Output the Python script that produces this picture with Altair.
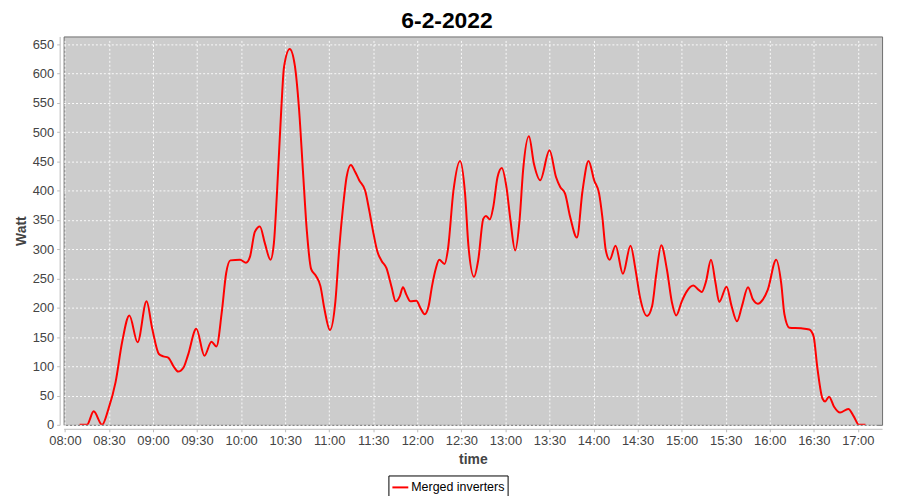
import altair as alt
import pandas as pd

# Readings (minutes after 08:00, watt)
minutes_after_8am = [
    10, 15, 19.6, 25.3, 29.5, 34.5, 39, 43.9, 49.5, 55.6, 59.4, 64, 67, 70.3, 74.2, 77.1,
    80.8, 83.8, 89.5, 95, 99.8, 103.2, 106.8, 109.8, 112.7, 119.3, 123.3, 126, 129.4,
    132.8, 136.2, 140, 142.3, 144.5, 147.4, 149.2, 153.1, 156.5, 159.4, 162.1, 164.8,
    167.7, 171.1, 174, 176.8, 180.5, 184.2, 186.9, 189.6, 191.8, 194.7, 197.7, 200.4,
    204.5, 207.2, 209.9, 212.8, 215.7, 218.9, 222.5, 225.2, 228.1, 230.2, 232.6, 235.3,
    239.4, 242, 245, 247.7, 250, 252.7, 254.9, 258.6, 260.8, 264.6, 269.1, 272.5, 274.8,
    278.6, 281.5, 284.9, 286.7, 289.4, 291.7, 294.6, 297.5, 300.7, 303.4, 306.6, 309.7,
    312, 316, 319.4, 323.7, 330, 334.5, 337.4, 340.6, 344.1, 348.7, 352.5, 356.6, 360.4,
    363.8, 366, 368.3, 371, 375, 380, 385.2, 388.6, 391.5, 396.5, 399.9, 402.8, 406.1,
    410, 413.4, 416.3, 420.1, 423.5, 428, 431.4, 433.7, 436.6, 440, 443.1, 445.6, 450.6,
    454, 457.7, 461.1, 465.2, 468.6, 471.9, 475.3, 478.7, 484.4, 487.8, 490, 493.4,
    501.3, 506.9, 509.8, 512.5, 515.9, 517.7, 520.4, 523.8, 527.9, 533.5, 537.3, 540.7,
    545.2,
]
watts = [
    0, 0, 23, 0, 26, 73, 142, 187, 141, 211, 165, 121, 117, 115, 99, 91,
    98, 119, 164, 118, 142, 134, 192, 259, 281, 282, 277, 287, 330,
    339, 310, 282, 310, 400, 542, 611, 642, 615, 541, 434, 330,
    266, 254, 237, 197, 162, 211, 304, 377, 423, 444, 432, 418,
    400, 367, 330, 296, 280, 268, 235, 211, 220, 235, 222, 211,
    212, 200, 189, 203, 237, 268, 282, 275, 299, 400, 451, 395, 306,
    253, 282, 352, 357, 351, 372, 423, 439, 406, 350, 298, 352,
    434, 493, 446, 418, 469, 423, 406, 395, 355, 320, 400, 451, 418,
    395, 355, 299, 282, 306, 258, 306, 265, 220, 186, 203, 259, 307,
    265, 209, 187, 211, 228, 238, 231, 227, 245, 282, 242, 210, 236,
    203, 177, 203, 235, 214, 207, 214, 231, 282, 242, 189, 166,
    165, 163, 152, 96, 45, 40, 48, 31, 21, 27, 14, 0,
    0,
]
series_name = "Merged inverters"
x_tick_labels = ["08:00", "08:30", "09:00", "09:30", "10:00", "10:30", "11:00", "11:30",
                 "12:00", "12:30", "13:00", "13:30", "14:00", "14:30", "15:00", "15:30",
                 "16:00", "16:30", "17:00"]
y_ticks = [0, 50, 100, 150, 200, 250, 300, 350, 400, 450, 500, 550, 600, 650]

start = pd.Timestamp("2022-02-06 08:00:00")
times = [(start + pd.to_timedelta(m, unit="min")).strftime("%Y-%m-%dT%H:%M:%S")
         for m in minutes_after_8am]
df = pd.DataFrame({"time": times, "watt": watts, "series": series_name})


def dt(h, m, s=0):
    return alt.DateTime(year=2022, month=2, date=6, hours=h, minutes=m, seconds=s)


x_values = [dt(int(t[:2]), int(t[3:])) for t in x_tick_labels]

FONT = "Liberation Sans"

chart = alt.Chart(df).mark_line(
    color="#ff0000", strokeWidth=2, interpolate="monotone", clip=True
).encode(
    x=alt.X("time:T",
            scale=alt.Scale(domain=[dt(7, 59, 7), dt(17, 16, 30)]),
            axis=alt.Axis(title="time", values=x_values, format="%H:%M",
                          labelPadding=3, titlePadding=5)),
    y=alt.Y("watt:Q",
            scale=alt.Scale(domain=[0, 663.6], nice=False, zero=False),
            axis=alt.Axis(title="Watt", values=y_ticks, labelPadding=3, titlePadding=4)),
    color=alt.Color("series:N", scale=alt.Scale(range=["#ff0000"]),
                    legend=alt.Legend(title=None, orient="none", legendX=327, legendY=442,
                                      padding=3, strokeColor="#000000", fillColor="#ffffff",
                                      cornerRadius=0, symbolType="stroke", symbolSize=256,
                                      symbolStrokeWidth=2, labelOffset=2,
                                      labelFont=FONT, labelFontSize=12.5, labelColor="#000000")),
).properties(
    width=824,
    height=391,
    title=alt.TitleParams("6-2-2022", font=FONT, fontSize=23, fontWeight="bold",
                          color="#000000", anchor="middle", dx=-26, offset=4),
    autosize=alt.AutoSizeParams(type="none"),
    padding={"left": 56, "top": 27, "right": 10, "bottom": 70},
).configure_view(
    fill="#cccccc", stroke="#6e6e6e", strokeWidth=1
).configure_axis(
    labelFont=FONT, labelFontSize=13, labelColor="#444444",
    titleFont=FONT, titleFontSize=14, titleFontWeight="bold", titleColor="#444444",
    domainColor="#bbbbbb", tickColor="#bbbbbb", tickSize=3, offset=4,
    gridColor="#ffffff", gridDash=[2, 2], gridWidth=1, gridOpacity=0.9,
)

chart.save("out.html", embed_options={"renderer": "svg", "actions": False})
